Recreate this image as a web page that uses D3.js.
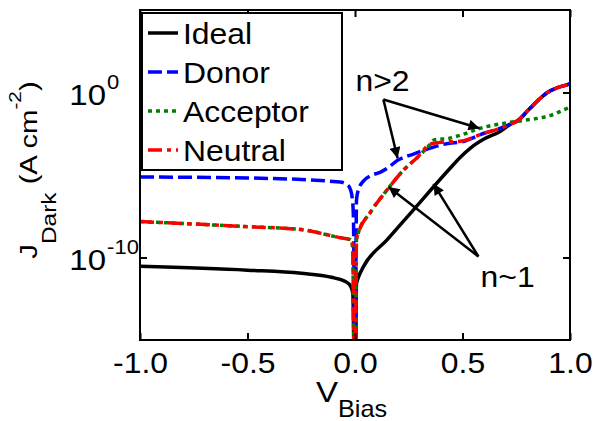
<!DOCTYPE html>
<html>
<head>
<meta charset="utf-8">
<script src="https://cdn.jsdelivr.net/npm/d3@7"></script>
<style>
  body { margin: 0; background: #fff; }
  svg text { font-family: "Liberation Sans", Arial, sans-serif; fill: #000; }
</style>
</head>
<body>
<div id="chart"></div>
<script>
//
// Data (V in volts, J in A cm^-2)
// 1e-20 stands in for the dip to zero current at V = 0
//
const idealV = [-1.0, -0.5, -0.25, -0.11, -0.045, -0.02, -0.01, 0.0, 0.007, 0.016, 0.04, 0.15, 0.272, 0.435, 0.49, 0.537, 0.60, 0.677, 0.723, 0.758, 0.805, 0.851, 0.895, 0.942, 0.988, 1.0]
const idealJ = [2.9e-11, 1.7e-11, 1.1e-11, 6.3e-12, 3.5e-12, 1.8e-12, 6.3e-13, 1e-20, 2.5e-12, 6.3e-12, 2.9e-11, 1.2e-9, 7.8e-8, 2.0e-5, 1.2e-4, 4.3e-4, 1.5e-3, 4.5e-3, 1.2e-2, 2.0e-2, 8.3e-2, 0.33, 1.0, 2.0, 3.0, 3.5]

const donorV = [-1.0, -0.5, -0.07, -0.035, -0.021, -0.012, -0.007, 0.0, 0.007, 0.016, 0.04, 0.07, 0.119, 0.151, 0.2, 0.272, 0.351, 0.44, 0.49, 0.6, 0.677, 0.723, 0.758, 0.805, 0.851, 0.895, 0.942, 0.988, 1.0]
const donorJ = [7.6e-6, 6.6e-6, 3.8e-6, 2.5e-6, 1.3e-6, 3.2e-7, 2e-8, 1e-20, 3.2e-7, 1.3e-6, 4.4e-6, 8.7e-6, 1.5e-5, 2.6e-5, 8.0e-5, 1.85e-4, 4.3e-4, 8.5e-4, 9.8e-4, 3.4e-3, 6.8e-3, 1.2e-2, 2.0e-2, 8.3e-2, 0.33, 1.0, 2.0, 3.0, 3.5]

const acceptorV = [-1.0, -0.5, -0.25, -0.07, -0.021, -0.012, 0.0, 0.007, 0.016, 0.07, 0.15, 0.226, 0.291, 0.35, 0.365, 0.44, 0.49, 0.6, 0.69, 0.78, 0.85, 0.91, 0.988, 1.0]
const acceptorJ = [1.5e-8, 7.4e-9, 4.9e-9, 1.6e-9, 1.2e-9, 6.3e-10, 1e-20, 1.2e-9, 3.2e-9, 5.1e-8, 1.3e-6, 2.0e-5, 1.2e-4, 7.4e-4, 1.3e-3, 1.7e-3, 2.6e-3, 7.8e-3, 1.35e-2, 2.0e-2, 2.7e-2, 4.1e-2, 0.11, 0.126]

const neutralV = [-1.0, -0.5, -0.25, -0.07, -0.021, -0.012, 0.0, 0.007, 0.016, 0.07, 0.15, 0.226, 0.291, 0.35, 0.41, 0.49, 0.6, 0.677, 0.723, 0.758, 0.805, 0.851, 0.895, 0.942, 0.988, 1.0]
const neutralJ = [1.5e-8, 7.4e-9, 4.9e-9, 1.6e-9, 1.2e-9, 6.3e-10, 1e-20, 1.2e-9, 3.2e-9, 5.1e-8, 1.3e-6, 2.0e-5, 1.2e-4, 7.4e-4, 9.8e-4, 1.1e-3, 3.4e-3, 6.8e-3, 1.2e-2, 2.0e-2, 8.3e-2, 0.33, 1.0, 2.0, 3.0, 3.5]

const seriesNames = ['Ideal', 'Donor', 'Acceptor', 'Neutral']
const seriesColours = ['#000000', '#0000ff', '#008000', '#ff0000']
const seriesDashes = ['none', '14,5', '4,4', '14,5,4,5']

const xTicks = [-1.0, -0.5, 0.0, 0.5, 1.0]
const yTicks = [1e-10, 1e0]
const yTickExponents = ['-10', '0']

// annotation arrows, [V, J] of tail and tips
const arrowN2Tail = [0.132, 0.38]
const arrowN2Tips = [[0.198, 1.05e-4], [0.579, 6.8e-3]]
const arrowN1Tail = [0.574, 1.15e-10]
const arrowN1Tips = [[0.156, 1.9e-6], [0.365, 2.9e-6]]

//
// Layout
//
const width = 593
const height = 421
const plot = { left: 140, right: 570, top: 10, bottom: 340 }
const stretch = 'scale(1.1,1)'
const fontSize = 29
const lineWidth = 3.5

const svg = d3.select('#chart').append('svg')
  .attr('width', width)
  .attr('height', height)

const x = d3.scaleLinear().domain([-1, 1]).range([plot.left, plot.right])
const y = d3.scaleLog().domain([1e-15, 1e5]).range([plot.bottom, plot.top])

const defs = svg.append('defs')
defs.append('clipPath').attr('id', 'plotClip')
  .append('rect')
    .attr('x', plot.left).attr('y', plot.top)
    .attr('width', plot.right - plot.left).attr('height', plot.bottom - plot.top)

defs.append('marker')
  .attr('id', 'arrowHead')
  .attr('viewBox', '0 0 10 10')
  .attr('refX', 10).attr('refY', 5)
  .attr('markerUnits', 'userSpaceOnUse')
  .attr('markerWidth', 13).attr('markerHeight', 11)
  .attr('orient', 'auto')
  .append('path')
    .attr('d', 'M0,0 L10,5 L0,10 Z')
    .attr('fill', '#000')

//
// Curves
//
const series = [
  { v: idealV, j: idealJ },
  { v: donorV, j: donorJ },
  { v: acceptorV, j: acceptorJ },
  { v: neutralV, j: neutralJ }
].map((s, i) => ({
  name: seriesNames[i],
  colour: seriesColours[i],
  dash: seriesDashes[i],
  points: s.v.map((v, k) => ({ v: v, j: s.j[k] }))
}))

const line = d3.line()
  .x(d => x(d.v))
  .y(d => y(d.j))
  .curve(d3.curveMonotoneX)

svg.append('g')
  .attr('clip-path', 'url(#plotClip)')
  .selectAll('path')
  .data(series)
  .enter()
  .append('path')
    .attr('d', d => line(d.points))
    .attr('fill', 'none')
    .attr('stroke', d => d.colour)
    .attr('stroke-width', lineWidth)
    .attr('stroke-dasharray', d => d.dash)

//
// Axes (ticks point inwards, mirrored on top and right)
//
const bottomAxis = svg.append('g')
  .attr('transform', `translate(0,${plot.bottom})`)
  .call(d3.axisBottom(x).tickValues(xTicks).tickSizeInner(-7).tickSizeOuter(0).tickPadding(12)
    .tickFormat(d => d.toFixed(1)))
bottomAxis.selectAll('text')
  .attr('font-size', fontSize)
  .attr('transform', stretch)

svg.append('g')
  .attr('transform', `translate(0,${plot.top})`)
  .call(d3.axisTop(x).tickValues(xTicks).tickSizeInner(-7).tickSizeOuter(0).tickFormat(() => ''))

const leftAxis = svg.append('g')
  .attr('transform', `translate(${plot.left},0)`)
  .call(d3.axisLeft(y).tickValues(yTicks).tickSizeInner(-7).tickSizeOuter(0).tickFormat(() => ''))
const yLabel = leftAxis.selectAll('.tick')
  .append('g')
    .attr('transform', `translate(-34,11.5) ${stretch}`)
yLabel.append('text')
  .attr('text-anchor', 'end')
  .attr('font-size', fontSize + 1)
  .text('10')
yLabel.append('text')
  .attr('text-anchor', 'start')
  .attr('x', 1)
  .attr('y', -16)
  .attr('font-size', 20)
  .text((d, i) => yTickExponents[i])

svg.append('g')
  .attr('transform', `translate(${plot.right},0)`)
  .call(d3.axisRight(y).tickValues(yTicks).tickSizeInner(-7).tickSizeOuter(0).tickFormat(() => ''))

svg.selectAll('.domain').attr('stroke', 'none')
svg.selectAll('.tick line').attr('stroke', '#000').attr('stroke-width', 2)

svg.append('rect')
  .attr('x', plot.left).attr('y', plot.top)
  .attr('width', plot.right - plot.left).attr('height', plot.bottom - plot.top)
  .attr('fill', 'none')
  .attr('stroke', '#000')
  .attr('stroke-width', 2)

//
// Axis titles
//
const xTitle = svg.append('g')
  .attr('transform', `translate(316,402) ${stretch}`)
  .append('text')
    .attr('font-size', 30)
xTitle.append('tspan').text('V')
xTitle.append('tspan').attr('font-size', 23).attr('dy', 15).text('Bias')

const yTitle = svg.append('g')
  .attr('transform', 'translate(37,170) rotate(-90) scale(1.22,1)')
  .append('text')
    .attr('text-anchor', 'middle')
    .attr('font-size', 24)
yTitle.append('tspan').text('J')
yTitle.append('tspan').attr('font-size', 20).attr('dy', 19).text('Dark')
yTitle.append('tspan').attr('dy', -19).text(' (A cm')
yTitle.append('tspan').attr('font-size', 17).attr('dy', -16).text('-2')
yTitle.append('tspan').attr('dy', 16).text(')')

//
// Annotations
//
function addArrows (tail, tips) {
  svg.append('g')
    .selectAll('line')
    .data(tips)
    .enter()
    .append('line')
      .attr('x1', x(tail[0])).attr('y1', y(tail[1]))
      .attr('x2', d => x(d[0])).attr('y2', d => y(d[1]))
      .attr('stroke', '#000')
      .attr('stroke-width', 2.5)
      .attr('marker-end', 'url(#arrowHead)')
}
addArrows(arrowN2Tail, arrowN2Tips)
addArrows(arrowN1Tail, arrowN1Tips)

svg.append('g')
  .attr('transform', `translate(${x(0.002)},${y(1.2)}) ${stretch}`)
  .append('text')
    .attr('font-size', fontSize)
    .text('n>2')
svg.append('g')
  .attr('transform', `translate(${x(0.584)},${y(1.6e-12)}) ${stretch}`)
  .append('text')
    .attr('font-size', fontSize)
    .text('n~1')

//
// Legend
//
const legend = svg.append('g')
legend.append('rect')
  .attr('x', 142).attr('y', 13)
  .attr('width', 200).attr('height', 157)
  .attr('fill', '#fff')
  .attr('stroke', '#000')
  .attr('stroke-width', 2)
const legendRow = legend.selectAll('.row')
  .data(series)
  .enter()
  .append('g')
    .attr('class', 'row')
    .attr('transform', (d, i) => `translate(148,${33 + i * 39})`)
legendRow.append('line')
  .attr('x1', 0).attr('x2', 30)
  .attr('stroke', d => d.colour)
  .attr('stroke-width', lineWidth)
  .attr('stroke-dasharray', d => d.dash)
legendRow.append('g')
  .attr('transform', `translate(35,11) ${stretch}`)
  .append('text')
    .attr('font-size', fontSize)
    .text(d => d.name)
</script>
</body>
</html>
